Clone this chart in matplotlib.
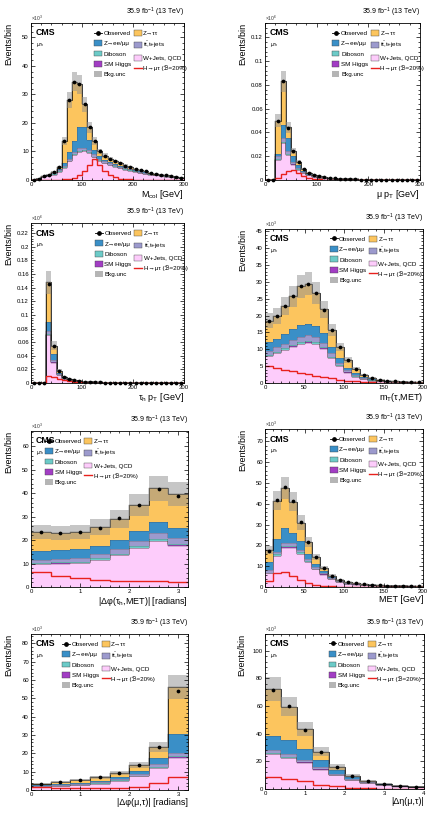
import numpy as np
import matplotlib
matplotlib.use('Agg')
import matplotlib.pyplot as plt
from matplotlib.patches import Patch
from matplotlib.lines import Line2D
from matplotlib.ticker import AutoMinorLocator, MultipleLocator, FormatStrFormatter

plt.rcParams['font.family'] = ['Liberation Sans', 'DejaVu Sans']
plt.rcParams['mathtext.fontset'] = 'custom'
plt.rcParams['mathtext.rm'] = 'Liberation Sans'
plt.rcParams['mathtext.it'] = 'Liberation Sans:italic'
plt.rcParams['mathtext.bf'] = 'Liberation Sans:bold'

# ---------------- data ----------------
# panel 1: M_col, 10 GeV bins, units of 1e3
edges1 = np.arange(0, 301, 10)
obs1 = [0.1, 0.4, 1.3, 1.8, 2.8, 4.5, 13.7, 28.0, 34.5, 33.5, 26.5, 18.5, 13.5, 10.0, 8.5, 7.4, 6.5, 5.8, 5.0, 4.5,
        4.0, 3.4, 3.0, 2.6, 2.2, 1.9, 1.6, 1.3, 1.0, 0.8]
wj1 = [0.07, 0.3, 0.9, 1.3, 1.9, 2.9, 4.2, 6.5, 8.6, 9.8, 10.0, 9.4, 7.9, 6.6, 5.8, 5.2, 4.6, 4.1, 3.6, 3.3,
       2.9, 2.5, 2.2, 1.9, 1.6, 1.4, 1.2, 0.95, 0.75, 0.6]
hig1 = [0, 0, 0.01, 0.01, 0.02, 0.03, 0.05, 0.08, 0.1, 0.12, 0.12, 0.1, 0.08, 0.06, 0.05, 0.04, 0.03, 0.03, 0.02, 0.02,
        0.02, 0.01, 0.01, 0.01, 0.01, 0.01, 0.01, 0.01, 0, 0]
vv1 = [0.01, 0.02, 0.04, 0.05, 0.07, 0.1, 0.14, 0.2, 0.25, 0.27, 0.27, 0.25, 0.22, 0.19, 0.17, 0.15, 0.13, 0.12, 0.1, 0.09,
       0.08, 0.07, 0.06, 0.05, 0.04, 0.04, 0.03, 0.03, 0.02, 0.02]
tt1 = [0.01, 0.04, 0.15, 0.2, 0.3, 0.4, 0.5, 0.7, 0.8, 0.85, 0.85, 0.8, 0.75, 0.65, 0.55, 0.5, 0.45, 0.4, 0.36, 0.32,
       0.28, 0.25, 0.22, 0.19, 0.16, 0.14, 0.12, 0.1, 0.08, 0.06]
zll1 = [0.01, 0.02, 0.1, 0.12, 0.2, 0.4, 1.0, 2.5, 3.8, 7.5, 7.3, 3.6, 1.6, 0.9, 0.6, 0.5, 0.4, 0.35, 0.3, 0.25,
        0.2, 0.17, 0.14, 0.12, 0.1, 0.08, 0.07, 0.06, 0.05, 0.04]
ztt1 = [0.0, 0.02, 0.1, 0.12, 0.31, 0.67, 7.8, 18.0, 20.9, 15.0, 8.0, 4.3, 3.0, 1.6, 1.3, 1.0, 0.9, 0.8, 0.6, 0.5,
        0.5, 0.4, 0.37, 0.33, 0.29, 0.23, 0.17, 0.15, 0.1, 0.08]
sig1 = [0, 0, 0, 0, 0.05, 0.1, 0.2, 0.35, 0.6, 1.6, 3.2, 5.2, 7.2, 5.2, 3.2, 1.7, 0.9, 0.5, 0.3, 0.2,
        0.15, 0.1, 0.08, 0.06, 0.05, 0.04, 0.03, 0.02, 0.02, 0.01]

# panel 2: muon pT, units of 1e6
edges2 = np.arange(0, 301, 10)
obs2 = [0, 0, 0.050, 0.083, 0.044, 0.024, 0.0148, 0.0090, 0.0060, 0.0042, 0.0030, 0.0022, 0.0017, 0.0013, 0.0010,
        0.0008, 0.0006, 0.0005, 0.0004, 0.0003, 0.00025, 0.0002, 0.00016, 0.00013, 0.0001, 0.00008, 0.00006,
        0.00005, 0.00004, 0.00003]
wj2 = [0, 0, 0.017, 0.031, 0.021, 0.013, 0.0085, 0.0055, 0.0038, 0.0027, 0.0020, 0.0015, 0.0012, 0.0009, 0.0007,
       0.00055, 0.00042, 0.00035, 0.00028, 0.00021, 0.00018, 0.00014, 0.00011, 0.00009, 0.00007, 0.00006, 0.00004,
       0.00004, 0.00003, 0.00002]
hig2 = [0, 0, 0.0001, 0.0002, 0.0002, 0.0001, 0.0001, 0.00005, 0.00003, 0.00002, 0.00002, 0.00001, 0.00001, 0.00001,
        0, 0, 0, 0, 0, 0, 0, 0, 0, 0, 0, 0, 0, 0, 0, 0]
vv2 = [0, 0, 0.0004, 0.0007, 0.0006, 0.0004, 0.0003, 0.0002, 0.00015, 0.0001, 0.00008, 0.00006, 0.00005, 0.00004,
       0.00003, 0.00003, 0.00002, 0.00002, 0.00001, 0.00001, 0.00001, 0.00001, 0.00001, 0, 0, 0, 0, 0, 0, 0]
tt2 = [0, 0, 0.0025, 0.0030, 0.0025, 0.0018, 0.0012, 0.0008, 0.0006, 0.0004, 0.0003, 0.00025, 0.0002, 0.00015,
       0.00012, 0.0001, 0.00008, 0.00006, 0.00005, 0.00004, 0.00003, 0.00003, 0.00002, 0.00002, 0.00001, 0.00001,
       0.00001, 0.00001, 0, 0]
zll2 = [0, 0, 0.0020, 0.0110, 0.0110, 0.0045, 0.0022, 0.0010, 0.0005, 0.0003, 0.0002, 0.00015, 0.0001, 0.00008,
        0.00006, 0.00005, 0.00004, 0.00003, 0.00002, 0.00002, 0.00001, 0.00001, 0.00001, 0.00001, 0.00001,
        0, 0, 0, 0, 0]
ztt2 = [0, 0, 0.0280, 0.0370, 0.0090, 0.0045, 0.0027, 0.0016, 0.0011, 0.0008, 0.0005, 0.0003, 0.0002, 0.00015,
        0.00012, 0.0001, 0.00006, 0.00004, 0.00004, 0.00002, 0.00002, 0.00001, 0.00001, 0.00001, 0.00001, 0.00001,
        0.00001, 0, 0.00001, 0.00001]
sig2 = [0, 0, 0.0021, 0.0050, 0.0072, 0.0083, 0.0062, 0.0037, 0.0020, 0.0010, 0.0006, 0.0004, 0.0003, 0.0002,
        0.0001, 0.0001, 0.00005, 0.00005, 0.00003, 0.00003, 0.00002, 0.00002, 0.00001, 0.00001, 0.00001,
        0, 0, 0, 0, 0]

# panel 3: tau_h pT, units of 1e6
edges3 = np.arange(0, 301, 10)
obs3 = [0, 0, 0, 0.146, 0.055, 0.018, 0.0095, 0.0060, 0.0040, 0.0028, 0.0020, 0.0015, 0.0011, 0.0008, 0.0006,
        0.0005, 0.0004, 0.0003, 0.00025, 0.0002, 0.00015, 0.00012, 0.0001, 0.00008, 0.00006, 0.00005, 0.00004,
        0.00003, 0.00003, 0.00002]
wj3 = [0, 0, 0, 0.070, 0.030, 0.0115, 0.0065, 0.0042, 0.0028, 0.0020, 0.0015, 0.0011, 0.0008, 0.0006, 0.00045,
       0.00037, 0.0003, 0.00022, 0.00019, 0.00015, 0.00011, 0.00009, 0.00007, 0.00006, 0.00004, 0.00004, 0.00003,
       0.00002, 0.00002, 0.00001]
hig3 = [0, 0, 0, 0.0003, 0.0002, 0.0001, 0.00005, 0.00003, 0.00002, 0.00001, 0.00001, 0, 0, 0, 0, 0, 0, 0, 0, 0,
        0, 0, 0, 0, 0, 0, 0, 0, 0, 0]
vv3 = [0, 0, 0, 0.0015, 0.0008, 0.0003, 0.0002, 0.00012, 0.00008, 0.00006, 0.00004, 0.00003, 0.00002, 0.00002,
       0.00001, 0.00001, 0.00001, 0.00001, 0, 0, 0, 0, 0, 0, 0, 0, 0, 0, 0, 0]
tt3 = [0, 0, 0, 0.0040, 0.0025, 0.0012, 0.0007, 0.0005, 0.0004, 0.0003, 0.0002, 0.00015, 0.0001, 0.00008, 0.00006,
       0.00005, 0.00004, 0.00003, 0.00002, 0.00002, 0.00002, 0.00001, 0.00001, 0.00001, 0.00001, 0.00001, 0, 0, 0, 0]
zll3 = [0, 0, 0, 0.0140, 0.0085, 0.0020, 0.0008, 0.0004, 0.0003, 0.0002, 0.00012, 0.0001, 0.00008, 0.00005,
        0.00004, 0.00003, 0.00002, 0.00002, 0.00001, 0.00001, 0.00001, 0.00001, 0.00001, 0, 0, 0, 0, 0, 0, 0]
ztt3 = [0, 0, 0, 0.058, 0.013, 0.0029, 0.0012, 0.0008, 0.0004, 0.00023, 0.00013, 0.0001, 0.0001, 0.00005, 0.00004,
        0.00004, 0.00003, 0.00002, 0.00002, 0.00001, 0.00001, 0.00001, 0.00001, 0.00001, 0.00001, 0, 0.00001,
        0.00001, 0.00001, 0.00001]
sig3 = [0, 0, 0, 0.0108, 0.0085, 0.0060, 0.0040, 0.0026, 0.0016, 0.0010, 0.0007, 0.0005, 0.0003, 0.0002, 0.0002,
        0.0001, 0.0001, 0.0001, 0.00005, 0.00005, 0.00003, 0.00003, 0.00002, 0.00002, 0.00001, 0.00001, 0.00001,
        0, 0, 0]

# panel 4: mT(tau, MET), units of 1e3
edges4 = np.arange(0, 201, 10)
obs4 = [18.5, 19.9, 22.8, 25.7, 28.7, 29.5, 26.7, 21.8, 15.8, 10.7, 6.8, 4.2, 2.5, 1.5, 1.0, 0.7, 0.5, 0.35, 0.25, 0.15]
wj4 = [8.0, 8.8, 9.8, 10.8, 11.6, 12.0, 11.6, 10.2, 7.4, 5.0, 3.1, 1.9, 1.1, 0.7, 0.45, 0.3, 0.22, 0.15, 0.1, 0.06]
hig4 = [0.08, 0.09, 0.1, 0.1, 0.1, 0.1, 0.09, 0.08, 0.06, 0.04, 0.03, 0.02, 0.01, 0.01, 0.01, 0, 0, 0, 0, 0]
vv4 = [0.35, 0.35, 0.38, 0.4, 0.42, 0.42, 0.4, 0.36, 0.3, 0.22, 0.15, 0.1, 0.07, 0.05, 0.03, 0.02, 0.02, 0.01, 0.01, 0.01]
tt4 = [1.2, 1.3, 1.4, 1.5, 1.6, 1.6, 1.5, 1.3, 1.0, 0.75, 0.5, 0.35, 0.22, 0.15, 0.1, 0.07, 0.05, 0.04, 0.03, 0.02]
zll4 = [2.4, 2.6, 2.9, 3.2, 3.4, 3.5, 3.3, 2.8, 2.0, 1.3, 0.8, 0.45, 0.25, 0.15, 0.1, 0.07, 0.05, 0.03, 0.02, 0.01]
ztt4 = [6.5, 6.8, 8.2, 9.7, 11.6, 11.9, 9.8, 7.1, 5.0, 3.4, 2.2, 1.4, 0.85, 0.44, 0.31, 0.24, 0.16, 0.12, 0.09, 0.05]
sig4 = [5.0, 4.5, 4.0, 3.5, 3.0, 2.6, 2.2, 1.8, 1.4, 1.0, 0.7, 0.45, 0.3, 0.2, 0.12, 0.08, 0.05, 0.03, 0.02, 0.01]

# panel 5: |dphi(tau_h, MET)|, units of 1e3
edges5 = [0, 0.4, 0.8, 1.2, 1.6, 2.0, 2.4, 2.8, 3.2]
obs5 = [23.3, 23.0, 23.3, 25.3, 29.3, 35.1, 41.8, 38.9]
wj5 = [9.8, 10.0, 10.3, 11.6, 13.6, 16.6, 19.6, 17.6]
hig5 = [0.1, 0.1, 0.1, 0.12, 0.14, 0.16, 0.2, 0.18]
vv5 = [0.4, 0.4, 0.42, 0.45, 0.5, 0.6, 0.7, 0.65]
tt5 = [1.4, 1.5, 1.6, 1.8, 2.0, 2.3, 2.6, 2.3]
zll5 = [3.8, 3.6, 3.8, 3.6, 3.9, 4.1, 4.6, 4.5]
ztt5 = [8.0, 7.4, 7.3, 7.9, 8.9, 11.2, 14.3, 14.3]
sig5 = [6.2, 4.9, 3.7, 2.9, 2.7, 2.6, 2.5, 2.2]

# panel 6: MET, units of 1e3
edges6 = np.arange(0, 201, 10)
obs6 = [17.5, 42.0, 48.0, 41.5, 31.2, 21.6, 14.4, 9.1, 5.4, 3.5, 2.2, 1.7, 1.3, 1.0, 0.8, 0.6, 0.5, 0.4, 0.3, 0.25]
wj6 = [6.5, 15.0, 19.0, 19.0, 16.0, 12.0, 8.5, 6.0, 3.8, 2.5, 1.6, 1.2, 0.9, 0.7, 0.55, 0.42, 0.35, 0.28, 0.21, 0.17]
hig6 = [0.05, 0.12, 0.15, 0.14, 0.11, 0.08, 0.06, 0.04, 0.03, 0.02, 0.01, 0.01, 0.01, 0.01, 0, 0, 0, 0, 0, 0]
vv6 = [0.3, 0.6, 0.7, 0.7, 0.6, 0.45, 0.33, 0.24, 0.16, 0.11, 0.07, 0.05, 0.04, 0.03, 0.02, 0.02, 0.02, 0.01, 0.01, 0.01]
tt6 = [1.1, 1.3, 1.3, 1.3, 1.3, 1.0, 0.7, 0.45, 0.25, 0.17, 0.12, 0.09, 0.07, 0.05, 0.04, 0.03, 0.02, 0.02, 0.02, 0.01]
zll6 = [4.0, 6.0, 7.0, 5.0, 4.0, 2.5, 1.5, 0.8, 0.4, 0.25, 0.15, 0.1, 0.08, 0.06, 0.05, 0.04, 0.03, 0.03, 0.02, 0.02]
ztt6 = [5.9, 18.5, 19.4, 14.9, 9.0, 5.8, 3.4, 1.7, 0.86, 0.45, 0.25, 0.25, 0.2, 0.15, 0.14, 0.09, 0.08, 0.06, 0.04, 0.04]
sig6 = [2.7, 6.5, 7.0, 5.4, 3.5, 1.9, 1.0, 0.5, 0.25, 0.12, 0.06, 0.03, 0.02, 0.01, 0.01, 0, 0, 0, 0, 0]

# panel 7: |dphi(mu, tau)|, units of 1e3
edges7 = [0, 0.4, 0.8, 1.2, 1.6, 2.0, 2.4, 2.8, 3.2]
obs7 = [3.3, 4.4, 5.5, 6.9, 9.1, 13.6, 23.3, 54.2]
wj7 = [1.5, 2.0, 2.5, 3.5, 5.0, 7.5, 12.0, 17.5]
hig7 = [0.02, 0.03, 0.03, 0.04, 0.05, 0.07, 0.12, 0.25]
vv7 = [0.08, 0.1, 0.12, 0.15, 0.2, 0.25, 0.4, 0.6]
tt7 = [0.4, 0.5, 0.55, 0.5, 0.75, 1.0, 1.5, 1.8]
zll7 = [0.5, 0.6, 0.8, 0.8, 1.0, 1.7, 3.5, 10.5]
ztt7 = [1.0, 1.3, 1.5, 2.0, 2.2, 3.0, 6.0, 25.4]
sig7 = [1.4, 1.1, 1.0, 1.0, 1.2, 1.7, 3.6, 7.3]

# panel 8: |deta(mu, tau)|, units of 1e3
edges8 = [0, 0.4, 0.8, 1.2, 1.6, 2.0, 2.4, 2.8, 3.2, 3.6, 4.0]
obs8 = [71.6, 59.8, 42.7, 26.7, 16.1, 9.4, 6.0, 3.6, 2.2, 1.4]
wj8 = [25.0, 22.5, 19.0, 14.0, 10.0, 6.5, 4.3, 2.8, 1.8, 1.1]
hig8 = [0.3, 0.25, 0.2, 0.15, 0.1, 0.06, 0.04, 0.02, 0.01, 0.01]
vv8 = [0.8, 0.7, 0.6, 0.45, 0.3, 0.2, 0.13, 0.08, 0.05, 0.03]
tt8 = [2.0, 1.8, 1.4, 1.0, 0.7, 0.45, 0.3, 0.2, 0.14, 0.06]
zll8 = [10.4, 9.8, 7.8, 5.4, 2.9, 1.3, 0.63, 0.3, 0.1, 0.1]
ztt8 = [34.0, 24.5, 14.5, 6.0, 2.0, 1.0, 0.6, 0.3, 0.2, 0.1]
sig8 = [9.0, 7.5, 5.5, 3.2, 1.9, 1.0, 0.6, 0.3, 0.2, 0.1]

# relative background uncertainty per panel
unc = [0.10, 0.11, 0.115, 0.12, 0.13, 0.11, 0.12, 0.12]

xlabels = [r'M$_{\mathrm{col}}$ [GeV]', r'μ p$_{\mathrm{T}}$ [GeV]', r'τ$_{\mathrm{h}}$ p$_{\mathrm{T}}$ [GeV]',
           r'm$_{\mathrm{T}}$(τ,MET)', r'|Δφ(τ$_{\mathrm{h}}$,MET)| [radians]', 'MET [GeV]',
           '|Δφ(μ,τ)| [radians]', '|Δη(μ,τ)|']
mult = [3, 6, 6, 3, 3, 3, 3, 3]

labels = ['Observed', 'Z→ττ', 'Z→ee/μμ', r't$\bar{\mathrm{t}}$,t+jets', 'Diboson',
          'W+Jets, QCD', 'SM Higgs', 'H→μτ (ℬ=20%)', 'Bkg.unc']

# colours, stacked bottom -> top: W+jets, SM Higgs, Diboson, ttbar, Z->ll, Z->tautau
c_wj, c_hig, c_vv, c_tt, c_zll, c_ztt = '#fdccfb', '#a23dc4', '#6ccbc8', '#9c9acd', '#3a8fc7', '#fcc55e'
c_sig = '#e8211d'

# ---------------- layout ----------------
W, H = 432, 813
boxes = [(31, 23, 184, 180), (265, 23, 420, 180),
         (31, 223, 184, 383), (265, 229, 423, 383),
         (31, 431, 188, 587), (265, 429, 423, 587),
         (31, 634, 188, 790), (265, 634, 424, 789)]
ylims = [55, 0.132, 0.235, 45.7, 66.5, 76, 85, 112]
ysteps = [10, 0.02, 0.02, 5, 10, 10, 10, 20]
xlims = [300, 300, 300, 200, 3.2, 200, 3.2, 4]
xsteps = [100, 100, 100, 50, 1, 50, 1, 1]
legx = [0.415, 0.43, 0.418, 0.41, 0.09, 0.41, 0.20, 0.40]

panels = [
    (edges1, obs1, [wj1, hig1, vv1, tt1, zll1, ztt1], sig1),
    (edges2, obs2, [wj2, hig2, vv2, tt2, zll2, ztt2], sig2),
    (edges3, obs3, [wj3, hig3, vv3, tt3, zll3, ztt3], sig3),
    (edges4, obs4, [wj4, hig4, vv4, tt4, zll4, ztt4], sig4),
    (edges5, obs5, [wj5, hig5, vv5, tt5, zll5, ztt5], sig5),
    (edges6, obs6, [wj6, hig6, vv6, tt6, zll6, ztt6], sig6),
    (edges7, obs7, [wj7, hig7, vv7, tt7, zll7, ztt7], sig7),
    (edges8, obs8, [wj8, hig8, vv8, tt8, zll8, ztt8], sig8),
]

fig = plt.figure(figsize=(W / 100, H / 100), dpi=100)

for i, (edges, obs, comps, sig) in enumerate(panels):
    l, t, r, b = boxes[i]
    ax = fig.add_axes([l / W, 1 - b / H, (r - l) / W, (b - t) / H])
    edges = np.asarray(edges, float)
    obs = np.asarray(obs, float)
    cols = [c_wj, c_hig, c_vv, c_tt, c_zll, c_ztt]

    bottom = np.zeros(len(obs))
    for vals, col in zip(comps, cols):
        top = bottom + np.asarray(vals, float)
        ax.stairs(top, edges, baseline=bottom, fill=True, facecolor=col, linewidth=0)
        ax.stairs(top, edges, baseline=None, color='#444444', linewidth=0.35)
        bottom = top
    total = bottom
    ax.stairs(total, edges, baseline=None, color='black', linewidth=0.5)

    # background uncertainty band
    ax.stairs(total * (1 + unc[i]), edges, baseline=total * (1 - unc[i]), fill=True,
              facecolor='#8f8f8f', alpha=0.5, linewidth=0)

    # signal
    ax.stairs(sig, edges, baseline=None, color=c_sig, linewidth=1.0)

    # observed
    centers = 0.5 * (edges[1:] + edges[:-1])
    ax.plot(centers, obs, 'o', color='black', markersize=2.7, markeredgewidth=0, clip_on=False, zorder=5)

    ax.set_xlim(0, xlims[i])
    ax.set_ylim(0, ylims[i])
    ax.xaxis.set_major_locator(MultipleLocator(xsteps[i]))
    ax.yaxis.set_major_locator(MultipleLocator(ysteps[i]))
    ax.xaxis.set_minor_locator(AutoMinorLocator(5))
    ax.yaxis.set_minor_locator(AutoMinorLocator(5))
    ax.yaxis.set_major_formatter(FormatStrFormatter('%g'))
    ax.xaxis.set_major_formatter(FormatStrFormatter('%g'))
    ax.tick_params(which='both', direction='in', top=True, right=True, labelsize=4.3, width=0.5, pad=1.5)
    ax.tick_params(which='major', length=3.2)
    ax.tick_params(which='minor', length=1.6)
    for s in ax.spines.values():
        s.set_linewidth(0.6)

    ax.set_ylabel('Events/bin', loc='top', fontsize=6.5)
    ax.yaxis.set_label_coords(-0.115, 1.0)
    ax.set_xlabel(xlabels[i], loc='right', fontsize=6.5)
    ax.xaxis.set_label_coords(1.0, -0.05)

    ax.text(1.0, 1.025, r'35.9 fb$^{-1}$ (13 TeV)', transform=ax.transAxes, ha='right', va='bottom', fontsize=5)
    ax.text(0.0, 1.003, r'$\times$10$^{%d}$' % mult[i], transform=ax.transAxes, ha='left', va='bottom',
            fontsize=3.6, color='#333333')
    ax.text(0.03, 0.965, 'CMS', transform=ax.transAxes, ha='left', va='top', fontsize=6.3, fontweight='bold')
    ax.text(0.03, 0.885, r'μτ$_{\mathrm{h}}$', transform=ax.transAxes, ha='left', va='top', fontsize=3.6,
            style='italic')

    h_obs = Line2D([], [], color='black', marker='o', markersize=2.4, linewidth=0.6)
    h_ztt = Patch(facecolor=c_ztt, edgecolor='#444444', linewidth=0.3)
    h_zll = Patch(facecolor=c_zll, edgecolor='#444444', linewidth=0.3)
    h_tt = Patch(facecolor=c_tt, edgecolor='#444444', linewidth=0.3)
    h_vv = Patch(facecolor=c_vv, edgecolor='#444444', linewidth=0.3)
    h_wj = Patch(facecolor=c_wj, edgecolor='#444444', linewidth=0.3)
    h_hig = Patch(facecolor=c_hig, edgecolor='#444444', linewidth=0.3)
    h_sig = Line2D([], [], color=c_sig, linewidth=1.0)
    h_unc = Patch(facecolor='#b5b5b5', edgecolor='none')
    handles = [h_obs, h_zll, h_vv, h_hig, h_unc, h_ztt, h_tt, h_wj, h_sig]
    labs = [labels[0], labels[2], labels[4], labels[6], labels[8], labels[1], labels[3], labels[5], labels[7]]
    ax.legend(handles, labs, ncol=2, loc='upper left', bbox_to_anchor=(legx[i], 0.955), frameon=False,
              fontsize=4.5, handlelength=1.25, handleheight=1.05, handletextpad=0.25, columnspacing=0.45,
              labelspacing=0.68, borderpad=0, borderaxespad=0)

fig.savefig('out.png', dpi=100)
